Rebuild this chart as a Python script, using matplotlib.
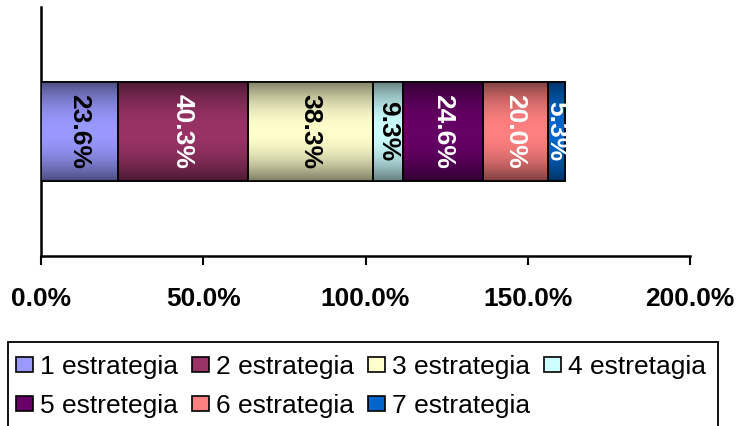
import matplotlib
matplotlib.use("Agg")
import matplotlib.pyplot as plt
import numpy as np
from matplotlib.colors import to_rgb
from matplotlib.ticker import FuncFormatter

plt.rcParams['font.family'] = ['Liberation Sans', 'DejaVu Sans']

categories = ['1 estrategia', '2 estrategia', '3 estrategia', '4 estretagia',
              '5 estretegia', '6 estrategia', '7 estrategia']
values = [23.6, 40.3, 38.3, 9.3, 24.6, 20.0, 5.3]
colors = ['#9999FF', '#993366', '#FFFFCC', '#CCFFFF', '#660066', '#FF8080', '#0066CC']
label_colors = ['black', 'white', 'black', 'black', 'white', 'white', 'white']
x_ticks = [0, 50, 100, 150, 200]

W, H = 737, 426
fig = plt.figure(figsize=(W/100, H/100), dpi=100)
ax = fig.add_axes([41/W, 1-256/H, (690-41)/W, (256-7)/H])

left = 0.0
bar_h = 0.4
for i, (cat, v, c, lc) in enumerate(zip(categories, values, colors, label_colors)):
    bars = ax.barh(0, v, left=left, height=bar_h, color=c, edgecolor='black',
                   linewidth=1.2, label=cat, zorder=3)
    patch = bars[0]
    # vertical gradient: darker at top/bottom edges
    base = np.array(to_rgb(c))
    t = np.linspace(-1, 1, 64)
    f = 1 - 0.5 * np.abs(t) ** 2.0
    grad = (base[None, :] * f[:, None])[:, None, :]
    im = ax.imshow(grad, extent=[left, left + v, -bar_h/2, bar_h/2], aspect='auto',
                   zorder=3.5, interpolation='bilinear')
    im.set_clip_path(patch)
    edge = plt.Rectangle((left, -bar_h/2), v, bar_h, fill=False, edgecolor='black',
                         linewidth=1.2, zorder=4)
    ax.add_patch(edge)
    ax.text(left + v/2, 0, f'{v:.1f}%', rotation=270, ha='center', va='center',
            color=lc, fontsize=19, fontweight='bold', zorder=5)
    left += v

ax.set_xlim(0, 200)
ax.set_ylim(-0.5, 0.5)
ax.set_xticks(x_ticks)
ax.xaxis.set_major_formatter(FuncFormatter(lambda x, p: f'{x:.1f}%'))
ax.tick_params(axis='x', direction='out', length=6.5, width=1.5, pad=16,
               labelsize=19)
for lab in ax.get_xticklabels():
    lab.set_fontweight('bold')
ax.set_yticks([])
for s in ['top', 'right']:
    ax.spines[s].set_visible(False)
for s in ['left', 'bottom']:
    ax.spines[s].set_linewidth(1.8)

handles = [plt.Rectangle((0, 0), 1, 1, facecolor=c, edgecolor='black', linewidth=1.2)
           for c in colors]
# reorder so that the legend reads row by row (matplotlib fills column-wise)
order = [0, 4, 1, 5, 2, 6, 3]
leg = fig.legend([handles[k] for k in order], [categories[k] for k in order],
                 loc='upper left', bbox_to_anchor=(8/W, 1-347/H),
                 ncol=4, fontsize=19, frameon=False,
                 handlelength=0.64, handleheight=0.49,
                 handletextpad=0.28, columnspacing=0.52, labelspacing=0.57,
                 borderaxespad=0.0, borderpad=0.3)
# legend frame
frame = plt.Rectangle((8/W, -0.01), (718-8)/W, (H-342)/H + 0.01, transform=fig.transFigure,
                      fill=False, edgecolor='black', linewidth=1.3)
fig.add_artist(frame)

fig.savefig('out.png', dpi=100)
